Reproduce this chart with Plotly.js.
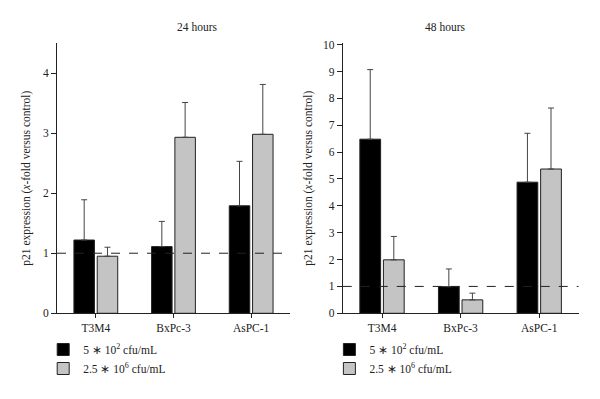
<!DOCTYPE html>
<html>
<head>
<meta charset="utf-8">
<script src="https://cdn.plot.ly/plotly-3.0.1.min.js"></script>
<style>html,body{margin:0;padding:0;background:#fff;}#chart{width:600px;height:399px;}</style>
</head>
<body>
<div id="chart"></div>
<script>
var categories = ["T3M4", "BxPc-3", "AsPC-1"];
var seriesNames = ["5 \u2217 10<sup>2</sup> cfu/mL", "2.5 \u2217 10<sup>6</sup> cfu/mL"];
var panelTitles = ["24 hours", "48 hours"];

var low24 = [1.22, 1.11, 1.79];
var low24Err = [0.67, 0.42, 0.74];
var high24 = [0.95, 2.93, 2.98];
var high24Err = [0.15, 0.58, 0.83];

var low48 = [6.48, 0.99, 4.88];
var low48Err = [2.59, 0.66, 1.82];
var high48 = [1.99, 0.50, 5.37];
var high48Err = [0.87, 0.25, 2.27];

var referenceLevel = 1;

var fontFam = "Liberation Serif";
var colors = ["#000000", "#c4c4c4"];

function barTrace(vals, errs, idx, xa, ya, leg) {
  return {
    type: "bar", x: categories, y: vals, name: seriesNames[idx],
    xaxis: xa, yaxis: ya, legend: leg,
    marker: {color: colors[idx], line: {color: "#222", width: 1}},
    error_y: {type: "data", array: errs, arrayminus: errs.map(function(){return 0;}),
              symmetric: false, color: "#444", thickness: 1, width: 3},
    hoverinfo: "x+y"
  };
}

var data = [
  barTrace(low24, low24Err, 0, "x", "y", "legend"),
  barTrace(high24, high24Err, 1, "x", "y", "legend"),
  barTrace(low48, low48Err, 0, "x2", "y2", "legend2"),
  barTrace(high48, high48Err, 1, "x2", "y2", "legend2")
];

var axisFont = {family: fontFam, size: 11.5, color: "#222"};
function ytitle(standoff) {
  return {text: "p21 expression (<i>x</i>-fold versus control)", font: {family: fontFam, size: 11.5, color: "#222"}, standoff: standoff};
}

var xCommon = {type: "category", showline: true, linecolor: "#222", linewidth: 1,
  ticks: "outside", ticklen: 4, tickcolor: "#222", tickfont: axisFont,
  showgrid: false, zeroline: false, range: [-0.5, 2.5], fixedrange: true};

var layout = {
  width: 600, height: 399,
  margin: {l: 0, r: 0, t: 0, b: 0},
  paper_bgcolor: "#fff", plot_bgcolor: "#fff",
  font: {family: fontFam, size: 11.5, color: "#222"},
  barmode: "group", bargap: 0.4, bargroupgap: 0.12,
  xaxis: Object.assign({}, xCommon, {domain: [0.095, 0.4833], anchor: "y"}),
  xaxis2: Object.assign({}, xCommon, {domain: [0.5712, 0.9642], anchor: "y2"}),
  yaxis: {domain: [0.2148, 0.8922], anchor: "x", range: [0, 4.5], tickvals: [0,1,2,3,4],
    showline: true, linecolor: "#222", linewidth: 1, ticks: "outside", ticklen: 5, tickcolor: "#222",
    tickfont: axisFont, showgrid: false, zeroline: false, title: ytitle(9), automargin: false},
  yaxis2: {domain: [0.2148, 0.8922], anchor: "x2", range: [0, 10.06], tickvals: [0,1,2,3,4,5,6,7,8,9,10],
    showline: true, linecolor: "#222", linewidth: 1, ticks: "outside", ticklen: 5, tickcolor: "#222",
    tickfont: axisFont, showgrid: false, zeroline: false, title: ytitle(7), automargin: false},
  shapes: [
    {type: "line", xref: "x domain", yref: "y", x0: 0, x1: 1, y0: referenceLevel, y1: referenceLevel,
     line: {color: "#222", width: 1, dash: "dash"}},
    {type: "line", xref: "x2 domain", yref: "y2", x0: 0, x1: 1, y0: referenceLevel, y1: referenceLevel,
     line: {color: "#222", width: 1, dash: "dash"}}
  ],
  annotations: [
    {text: panelTitles[0], xref: "paper", yref: "paper", x: 175/600, y: 1 - 27/399, yanchor: "middle", showarrow: false,
     font: {family: fontFam, size: 11.5, color: "#222"}},
    {text: panelTitles[1], xref: "paper", yref: "paper", x: 467/600, y: 1 - 27/399, yanchor: "middle", showarrow: false,
     font: {family: fontFam, size: 11.5, color: "#222"}}
  ],
  legend: {x: 0.072, y: 1 - 335/399, xanchor: "left", yanchor: "top", bgcolor: "rgba(0,0,0,0)",
    font: {family: fontFam, size: 11.5, color: "#222"}, tracegroupgap: 0, itemwidth: 30},
  legend2: {x: 0.549, y: 1 - 335/399, xanchor: "left", yanchor: "top", bgcolor: "rgba(0,0,0,0)",
    font: {family: fontFam, size: 11.5, color: "#222"}, tracegroupgap: 0, itemwidth: 30},
  showlegend: true
};

Plotly.newPlot("chart", data, layout, {displayModeBar: false, staticPlot: true});
</script>
</body>
</html>
